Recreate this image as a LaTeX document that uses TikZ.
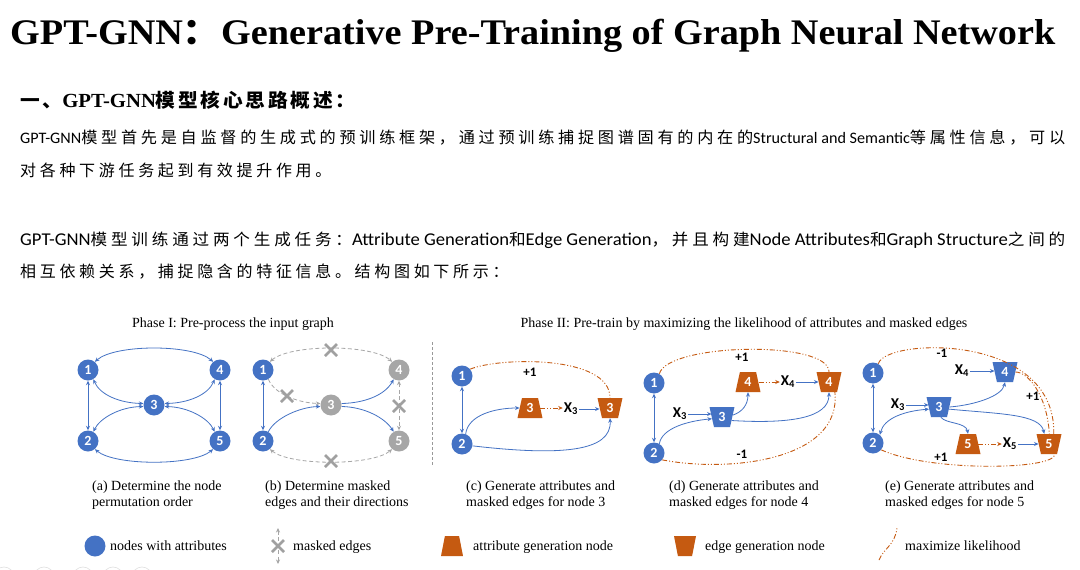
\documentclass[tikz,border=0pt]{standalone}
\usepackage{fontspec}
\usepackage{graphicx}
\setmainfont{Liberation Serif}
\newfontfamily\calib{Carlito}
\newfontfamily\cjk{Noto Sans CJK SC}[LetterSpace=23]
\newfontfamily\cjkh{Noto Sans CJK SC}[LetterSpace=14]
\newfontfamily\cjkt{Noto Sans CJK SC}
\usetikzlibrary{shapes.geometric,arrows.meta}
\definecolor{nblue}{HTML}{4472C4}
\definecolor{norange}{HTML}{C55A11}
\definecolor{ngray}{HTML}{A6A6A6}
\definecolor{xgray}{HTML}{A0A0A0}
\newcommand\fitw[2]{\resizebox{#1}{\height}{#2}}
\newcommand\fsz[1]{\fontsize{#1}{#1}\selectfont}
\begin{document}
\begin{tikzpicture}[x=1pt,y=-1pt,
  >={Stealth[length=4.5pt,width=4pt]},
  nd/.style={circle,fill=nblue,minimum size=21pt,inner sep=0pt,text=white,font=\calib\bfseries\fsz{14}},
  gnd/.style={nd,fill=ngray},
  attrn/.style={trapezium,trapezium left angle=78,trapezium right angle=78,trapezium stretches=true,
    minimum width=25pt,minimum height=20pt,inner sep=0pt,fill=norange,text=white,font=\calib\bfseries\fsz{14}},
  edgen/.style={attrn,trapezium left angle=102,trapezium right angle=102},
  bedgen/.style={edgen,fill=nblue},
  bl/.style={draw=nblue,line width=0.8pt},
  ol/.style={draw=norange,line width=0.9pt,dash pattern=on 5pt off 2pt on 1pt off 2pt on 1pt off 2pt},
  gl/.style={draw=ngray,line width=0.8pt,dash pattern=on 4pt off 2.5pt},
  xl/.style={inner sep=1pt,font=\calib\bfseries\fsz{15}},
  lbl/.style={inner sep=0pt,font=\calib\bfseries\fsz{13}},
  capt/.style={anchor=base west,inner sep=0pt,font=\fsz{14}},
  txt/.style={anchor=base west,inner sep=0pt},
  xmk/.pic={\draw[line width=2.8pt,draw=xgray] (-6,-6)--(6,6) (-6,6)--(6,-6);}
]
\useasboundingbox (0,0) rectangle (1080,570);
\fill[white] (0,0) rectangle (1080,570);

% ---------- text ----------
\node[txt] (title) at (10,44) {\fitw{1045pt}{\bfseries\fsz{36}GPT-GNN{\cjkt ：}Generative Pre-Training of Graph Neural Network}};
\node[txt] (head) at (20,107) {\fitw{335pt}{{\cjkh\bfseries\fsz{19}一、}{\bfseries\fsz{20}GPT-GNN}{\cjkh\bfseries\fsz{19}模型核心思路概述：}}};
\node[txt] (p1a) at (20,143) {\fitw{1045pt}{{\calib\fsz{16}GPT-GNN}{\cjk\fsz{16}模型首先是自监督的生成式的预训练框架，通过预训练捕捉图谱固有的内在的}{\calib\fsz{16}Structural and Semantic}{\cjk\fsz{16}等属性信息，可以}}};
\node[txt] (p1b) at (20,176) {{\cjk\fsz{16}对各种下游任务起到有效提升作用。}};
\node[txt] (p2a) at (20,245) {\fitw{1045pt}{{\calib\fsz{18}GPT-GNN}{\cjk\fsz{16}模型训练通过两个生成任务：}{\calib\fsz{18}Attribute Generation}{\cjk\fsz{16}和}{\calib\fsz{18}Edge Generation}{\cjk\fsz{16}，并且构建}{\calib\fsz{18}Node Attributes}{\cjk\fsz{16}和}{\calib\fsz{18}Graph Structure}{\cjk\fsz{16}之间的}}};
\node[txt] (p2b) at (20,277) {{\cjk\fsz{16}相互依赖关系，捕捉隐含的特征信息。结构图如下所示：}};

% ---------- phase titles ----------
\node[anchor=base,inner sep=0pt,font=\fsz{14}] (ph1) at (233,327) {Phase I: Pre-process the input graph};
\node[anchor=base,inner sep=0pt,font=\fsz{14}] (ph2) at (744,327) {Phase II: Pre-train by maximizing the likelihood of attributes and masked edges};
\draw[draw=gray!80,line width=0.8pt,dash pattern=on 3pt off 2pt] (432,342) -- (432,465);

% ---------- panel (a) ----------
\node[nd] (a1) at (88,370) {1};
\node[nd] (a4) at (220,370) {4};
\node[nd] (a3) at (154,405) {3};
\node[nd] (a2) at (88,441) {2};
\node[nd] (a5) at (220,441) {5};
\draw[bl,<->] (a1.50) .. controls (115,344) and (193,344) .. (a4.130);
\draw[bl,<->] (a2.-50) .. controls (115,466) and (193,466) .. (a5.-130);
\draw[bl,<->] (a1) -- (a2);
\draw[bl,<->] (a4) -- (a5);
\draw[bl,<->] (a1.-60) .. controls (100,395) and (120,403) .. (a3.172);
\draw[bl,<->] (a2.60) .. controls (100,418) and (120,407) .. (a3.188);
\draw[bl,<->] (a3.8) .. controls (188,403) and (208,395) .. (a4.-120);
\draw[bl,<->] (a3.-8) .. controls (188,407) and (208,418) .. (a5.120);
\node[capt] (capa1) at (92,490) {(a) Determine the node};
\node[capt] (capa2) at (92,506) {permutation order};

% ---------- panel (b) ----------
\node[nd] (b1) at (263,370) {1};
\node[gnd] (b4) at (399,370) {4};
\node[gnd] (b3) at (331,405) {3};
\node[nd] (b2) at (263,441) {2};
\node[gnd] (b5) at (399,441) {5};
\draw[gl,<->] (b1.50) .. controls (290,344) and (372,344) .. (b4.130);
\draw[gl,<->] (b2.-50) .. controls (290,466) and (372,466) .. (b5.-130);
\draw[gl,->] (b1.-60) .. controls (275,395) and (300,403) .. (b3.172);
\draw[bl,->] (b2.60) .. controls (275,418) and (300,407) .. (b3.188);
\draw[bl,<->] (b1) -- (b2);
\draw[bl,->] (b3.8) .. controls (365,403) and (385,395) .. (b4.-120);
\draw[bl,->] (b3.-8) .. controls (365,407) and (385,418) .. (b5.120);
\draw[gl,<->] (b4) -- (b5);
\pic at (331,350) {xmk};
\pic at (287,396) {xmk};
\pic at (399,406) {xmk};
\pic at (331,461) {xmk};
\node[capt] (capb1) at (265,490) {(b) Determine masked};
\node[capt] (capb2) at (265,506) {edges and their directions};

% ---------- panel (c) ----------
\node[nd] (c1) at (462,376) {1};
\node[nd] (c2) at (462,444) {2};
\node[attrn] (ca3) at (530,408) {3};
\node[xl] (cx3) at (571,409) {X\textsubscript{3}};
\node[edgen] (ce3) at (610,408) {3};
\draw[bl,<->] (c1) -- (c2);
\draw[ol] (c1.40) .. controls (500,357) and (610,355) .. (ce3.90);
\node[lbl] (cp1) at (530,372) {+1};
\draw[bl,->] (c2.70) .. controls (468,415) and (495,408) .. (ca3.180);
\draw[bl,->] (c2.-10) .. controls (560,456) and (612,452) .. (ce3.-90);
\draw[ol,->] (ca3.0) -- (cx3.west |- ca3.0);
\draw[bl,->] (cx3.east) -- (cx3.east -| ce3.west);
\node[capt] (capc1) at (466,490) {(c) Generate attributes and};
\node[capt] (capc2) at (466,506) {masked edges for node 3};

% ---------- panel (d) ----------
\node[nd] (d1) at (654,383) {1};
\node[nd] (d2) at (654,453) {2};
\node[bedgen] (d3) at (722,417) {3};
\node[attrn] (da4) at (748,382) {4};
\node[xl] (dx4) at (788,382) {X\textsubscript{4}};
\node[edgen] (de4) at (829,382) {4};
\node[xl] (dx3) at (680,414) {X\textsubscript{3}};
\draw[bl,<->] (d1) -- (d2);
\draw[ol] (d1.60) .. controls (668,343) and (829,340) .. (de4.90);
\node[lbl] (dp1) at (742,357) {+1};
\draw[ol] (d2.-40) .. controls (730,473) and (842,460) .. (de4.-60);
\node[lbl] (dm1) at (742,454) {-1};
\draw[bl,->] (d2.60) .. controls (662,428) and (688,421) .. (d3.190);
\draw[bl,->] (dx3.east) -- (dx3.east -| d3.west);
\draw[bl,->] (d3.10) .. controls (742,412) and (748,405) .. (da4.-90);
\draw[bl,->] (d3.-20) .. controls (790,424) and (829,418) .. (de4.-90);
\draw[ol,->] (da4.0) -- (dx4.west |- da4.0);
\draw[bl,->] (dx4.east) -- (dx4.east -| de4.west);
\node[capt] (capd1) at (669,490) {(d) Generate attributes and};
\node[capt] (capd2) at (669,506) {masked edges for node 4};

% ---------- panel (e) ----------
\node[nd] (e1) at (873,373) {1};
\node[nd] (e2) at (873,443) {2};
\node[bedgen] (e3) at (939,407) {3};
\node[bedgen] (e4) at (1005,372) {4};
\node[xl] (ex4) at (962,371) {X\textsubscript{4}};
\node[xl] (ex3) at (898,405) {X\textsubscript{3}};
\node[attrn] (ea5) at (968,444) {5};
\node[xl] (ex5) at (1010,444) {X\textsubscript{5}};
\node[edgen] (ee5) at (1049,444) {5};
\draw[bl,<->] (e1) -- (e2);
\draw[ol] (e1.60) .. controls (885,338) and (1056,332) .. (ee5.65);
\node[lbl] (em1) at (942,353) {-1};
\draw[ol] (e4.0) .. controls (1028,372) and (1047,395) .. (ee5.88);
\node[lbl] (ep1) at (1033,396) {+1};
\draw[ol] (e2.-40) .. controls (930,472) and (1055,470) .. (ee5.-60);
\node[lbl] (ep2) at (941,457) {+1};
\draw[bl,<->] (e2.50) .. controls (884,418) and (905,411) .. (e3.192);
\draw[bl,->] (ex3.east) -- (ex3.east -| e3.west);
\draw[bl,->] (ex4.east) -- (ex4.east -| e4.west);
\draw[bl,->] (e3.0) .. controls (975,405) and (1002,396) .. (e4.-90);
\draw[bl,->] (e3.-12) .. controls (1000,414) and (1040,414) .. (ee5.115);
\draw[bl,->] (e3.-80) .. controls (946,424) and (966,422) .. (ea5.90);
\draw[ol,->] (ea5.0) -- (ex5.west |- ea5.0);
\draw[bl,->] (ex5.east) -- (ex5.east -| ee5.west);
\node[capt] (cape1) at (885,490) {(e) Generate attributes and};
\node[capt] (cape2) at (885,506) {masked edges for node 5};

% ---------- legend ----------
\node[nd,minimum size=21pt] (lg1) at (95,546) {};
\node[capt] (lt1) at (110,550) {nodes with attributes};
\coordinate (lgxt) at (278,528);
\coordinate (lgxb) at (278,564);
\draw[gl,<->,line width=0.6pt] (lgxt) -- (lgxb);
\pic at (278,546) {xmk};
\node[capt] (lt2) at (293,550) {masked edges};
\node[attrn,minimum width=22pt,minimum height=20pt] (lg3) at (452,546) {\phantom{5}};
\node[capt] (lt3) at (473,550) {attribute generation node};
\node[edgen,minimum width=22pt,minimum height=20pt] (lg4) at (685,546) {\phantom{5}};
\node[capt] (lt4) at (705,550) {edge generation node};
\coordinate (lgc1) at (879,560);
\coordinate (lgc2) at (897,528);
\draw[ol] (lgc1) .. controls (884,548) and (895,545) .. (lgc2);
\node[capt] (lt5) at (905,550) {maximize likelihood};

% faint page icons
\foreach \cx in {4,44,83,113,142} \draw[gray!25,line width=0.6pt] (\cx,577) circle (10);
\end{tikzpicture}
\end{document}
